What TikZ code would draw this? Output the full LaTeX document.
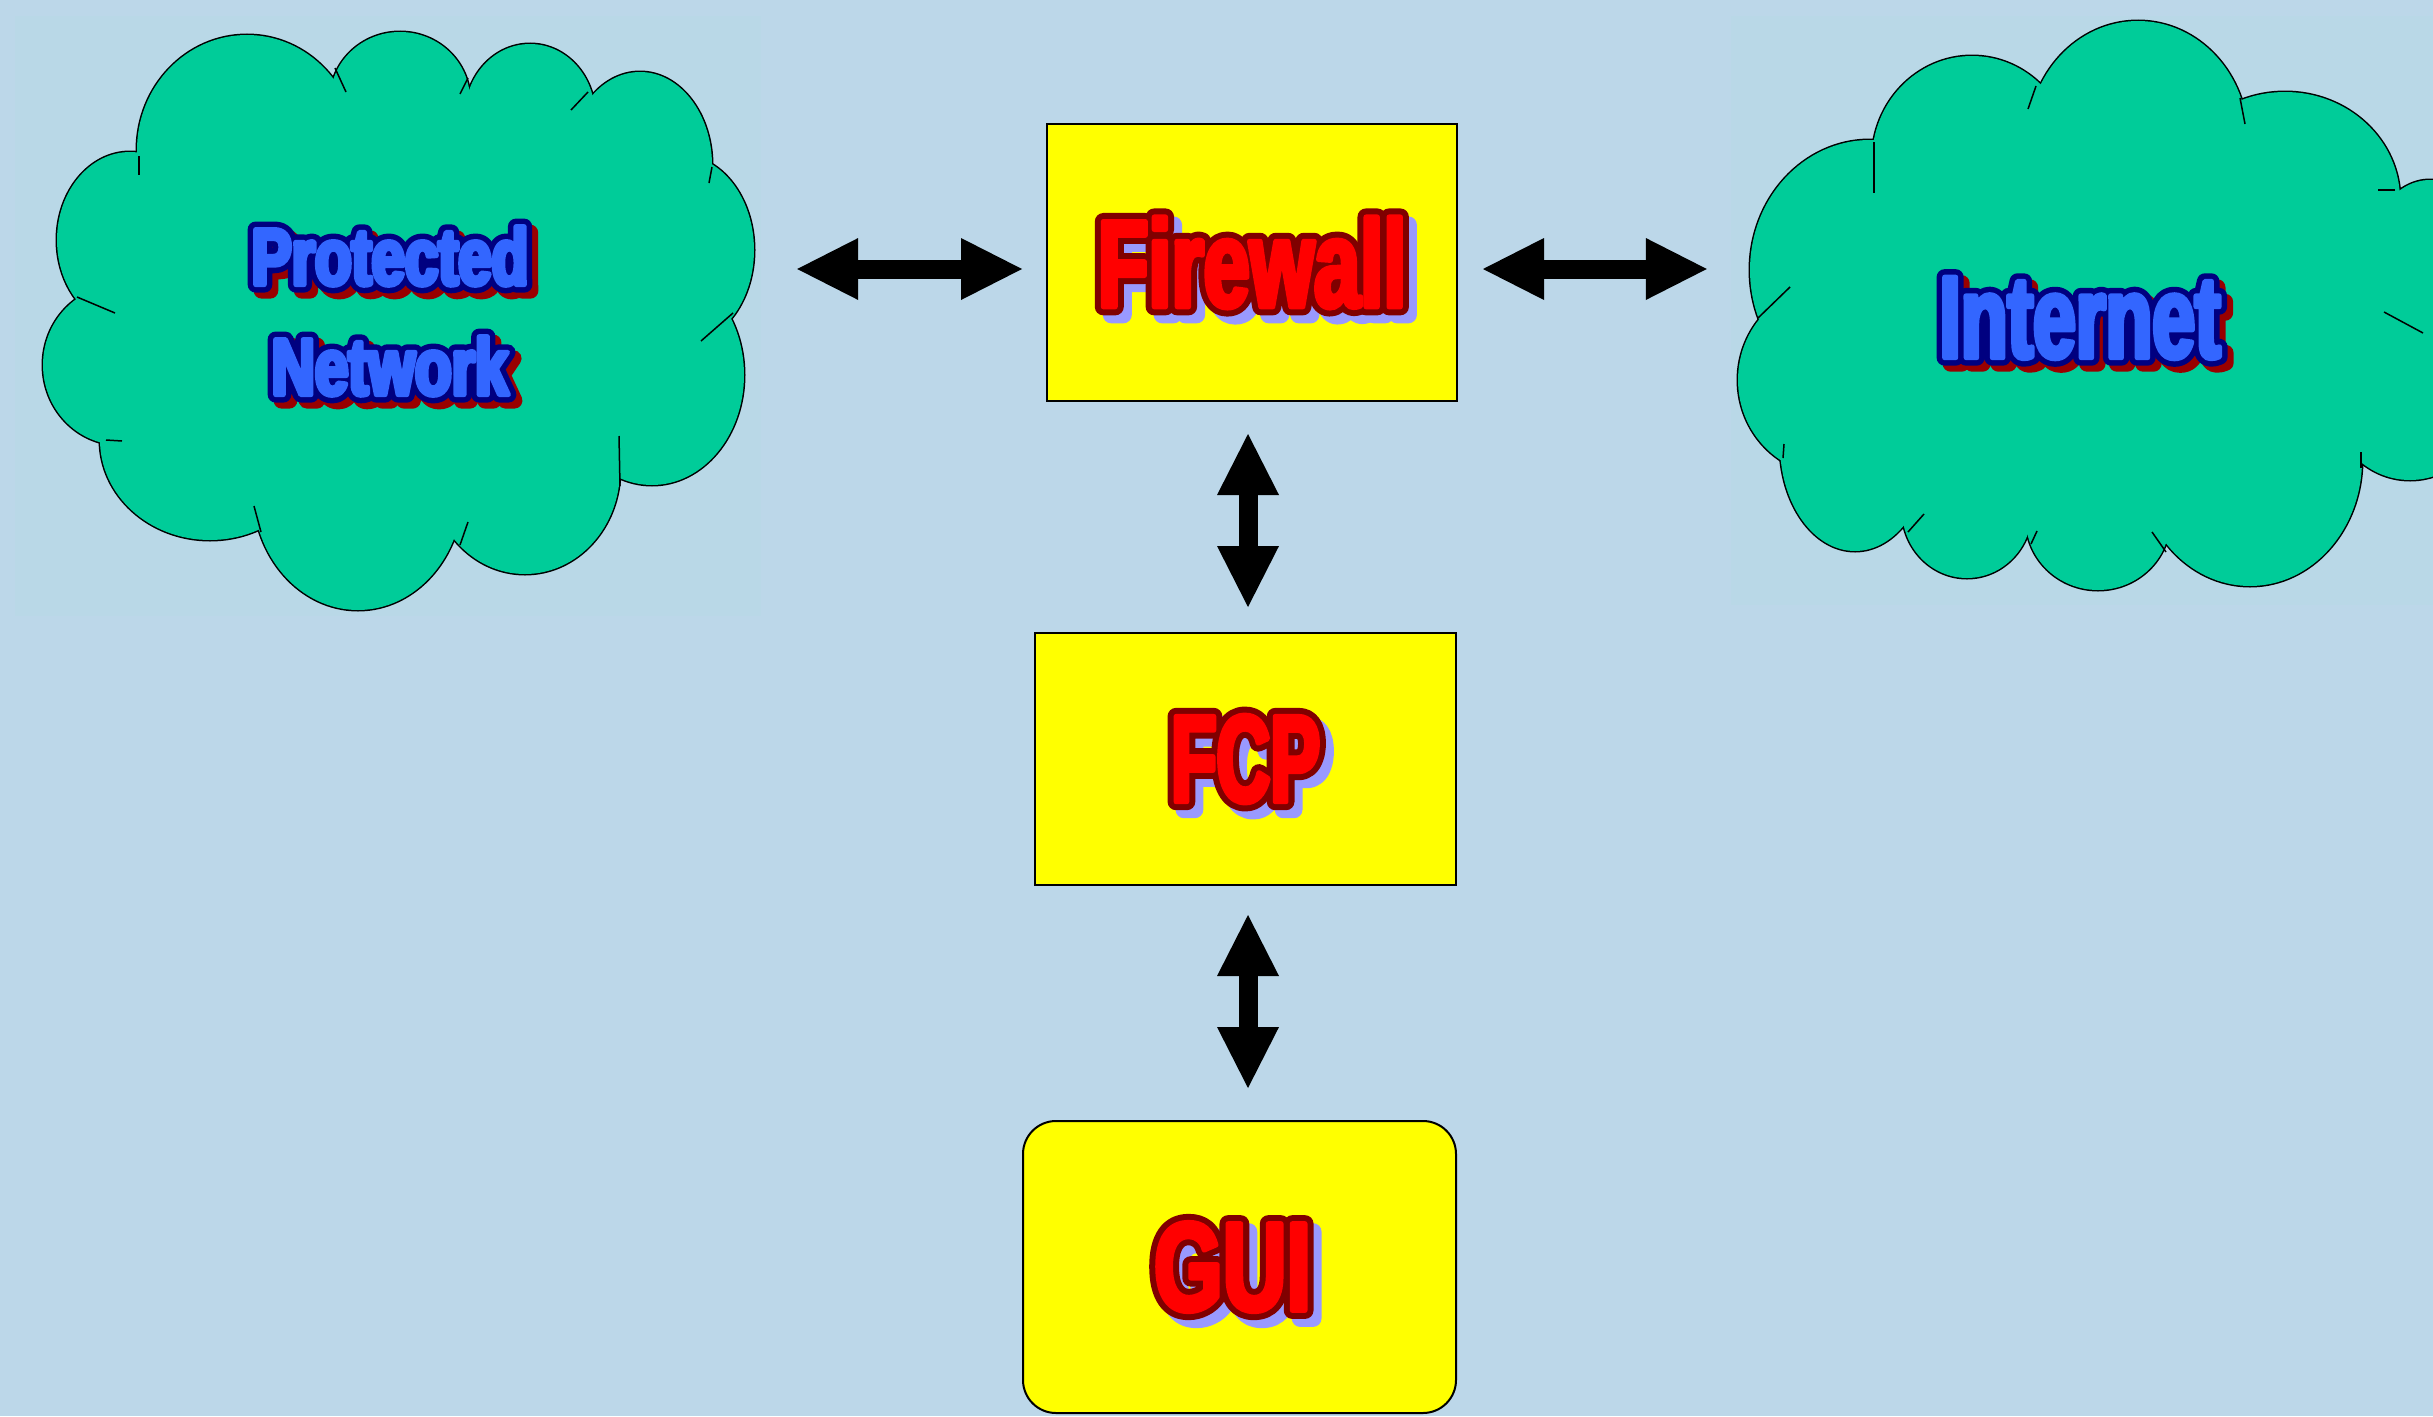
\documentclass[tikz,border=0pt]{standalone}
\usepackage{fontspec}
\usetikzlibrary{arrows.meta}
\newfontfamily\fwfont{Liberation Sans Bold}[FakeStretch=0.668]
\newfontfamily\fcpfont{Liberation Sans Bold}[FakeStretch=0.60]
\newfontfamily\guifont{Liberation Sans Bold}[FakeStretch=0.70]
\newfontfamily\pnfont{Liberation Sans Bold}[FakeStretch=0.75]
\newfontfamily\inetfont{Liberation Sans Bold}[FakeStretch=0.655]
\definecolor{bg}{RGB}{188,215,233}
\definecolor{area}{RGB}{185,216,231}
\definecolor{cloudfill}{RGB}{0,204,153}
\definecolor{boxfill}{RGB}{255,255,0}
\definecolor{redfill}{RGB}{255,0,0}
\definecolor{redline}{RGB}{128,0,0}
\definecolor{lavender}{RGB}{153,153,255}
\definecolor{bluefill}{RGB}{51,102,255}
\definecolor{blueline}{RGB}{0,0,128}
\definecolor{darkred}{RGB}{153,0,0}
% text filled and stroked in one colour: #1 colour, #2 stroke width (bp), #3 text
\newcommand\trl[3]{{\color{#1}\special{pdf:literal direct 2 Tr #2 w 1 j}#3\special{pdf:literal direct 0 Tr}}}
% #1 shadow, #2 outline, #3 fill, #4 outer width, #5 inner width, #6 shadow offset, #7 text
\newcommand\layered[7]{\leavevmode\rlap{\smash{\hspace*{#6}\raisebox{-#6}{\trl{#1}{#4}{#7}}}}\rlap{\trl{#2}{#4}{#7}}\trl{#3}{#5}{#7}}
\newcommand\redtxt[1]{\layered{lavender}{redline}{redfill}{17}{5}{8pt}{#1}}
\newcommand\bluetxt[1]{\layered{darkred}{blueline}{bluefill}{16}{5}{6pt}{#1}}
\begin{document}
\begin{tikzpicture}[x=1pt,y=-1pt,
  yellowbox/.style={draw=black, line width=2pt, fill=boxfill, inner sep=0pt},
  cloudarea/.style={inner sep=0pt, align=center},
  fat/.style={line width=19pt, draw=black,
    {Triangle[length=61pt,width=62pt,line width=0pt]}-{Triangle[length=61pt,width=62pt,line width=0pt]}},
  cloudline/.style={draw=black, line width=3pt},
  tail/.style={draw=black, line width=1.5pt},
]
\useasboundingbox (0,0) rectangle (2433,1416);
\fill[bg] (0,0) rectangle (2433,1416);
\fill[area] (15,16) rectangle (761,616);
\fill[area] (1731,16) rectangle (2433,605);

% left cloud: stroke pass, then fill pass
\foreach \cx/\cy/\rx/\ry in {247/150/110/115, 400/100/70/68, 530/115/65/71, 640/165/72/93,
  680/250/74/95, 652/375/92/110, 525/470/95/104, 358/490/105/120, 210/440/110/100,
  120/365/77/80, 130/240/73/88}
  \draw[cloudline] (\cx,\cy) ellipse [x radius=\rx pt, y radius=\ry pt];
\foreach \cx/\cy/\rx/\ry in {247/150/110/115, 400/100/70/68, 530/115/65/71, 640/165/72/93,
  680/250/74/95, 652/375/92/110, 525/470/95/104, 358/490/105/120, 210/440/110/100,
  120/365/77/80, 130/240/73/88}
  \fill[cloudfill] (\cx,\cy) ellipse [x radius=\rx pt, y radius=\ry pt];
\fill[cloudfill] (247,150) -- (400,100) -- (530,115) -- (640,165) -- (680,250) -- (652,375)
  -- (525,470) -- (358,490) -- (210,440) -- (120,365) -- (130,240) -- cycle;
\foreach \ax/\ay/\bx/\by in {139/156/139/175, 335/68/346/92, 468/78/460/94, 588/92/571/110,
  712/167/709/183, 733/313/701/341, 620/486/619/436, 460/545/468/522, 261/532/254/506,
  106/440/122/441, 77/297/115/313}
  \draw[tail] (\ax,\ay) -- (\bx,\by);

% right cloud
\foreach \cx/\cy/\rx/\ry in {1870/270/120/130, 1972/160/100/104, 2138/140/110/119,
  2285/200/115/108, 2430/270/65/90, 2410/395/80/85, 2250/460/112/126, 2098/520/72/70,
  1967/510/65/68, 1855/445/75/106, 1830/380/92/95}
  \draw[cloudline] (\cx,\cy) ellipse [x radius=\rx pt, y radius=\ry pt];
\foreach \cx/\cy/\rx/\ry in {1870/270/120/130, 1972/160/100/104, 2138/140/110/119,
  2285/200/115/108, 2430/270/65/90, 2410/395/80/85, 2250/460/112/126, 2098/520/72/70,
  1967/510/65/68, 1855/445/75/106, 1830/380/92/95}
  \fill[cloudfill] (\cx,\cy) ellipse [x radius=\rx pt, y radius=\ry pt];
\fill[cloudfill] (1870,270) -- (1972,160) -- (2138,140) -- (2285,200) -- (2430,270)
  -- (2410,395) -- (2250,460) -- (2098,520) -- (1967,510) -- (1855,445) -- (1830,380) -- cycle;
\foreach \ax/\ay/\bx/\by in {1874/142/1874/193, 2036/86/2028/109, 2240/98/2245/124,
  2395/190/2378/190, 2423/333/2384/312, 2361/468/2361/452, 2166/552/2152/532,
  2031/544/2037/531, 1908/532/1924/514, 1783/458/1784/444, 1758/318/1790/287}
  \draw[tail] (\ax,\ay) -- (\bx,\by);

% cloud labels (nodes sized to the clouds)
\node[cloudarea, minimum width=728pt, minimum height=560pt,
  font=\pnfont\fontsize{80}{110}\selectfont] (pn) at (390,311)
  {\bluetxt{Protected}\\\bluetxt{Network}};
\node[cloudarea, minimum width=684pt, minimum height=560pt,
  font=\inetfont\fontsize{117}{125}\selectfont] (inet) at (2080,318)
  {\bluetxt{Internet}};

% boxes
\node[yellowbox, minimum width=410pt, minimum height=277pt,
  font=\fwfont\fontsize{124}{130}\selectfont] (fw) at (1252,262.5) {\redtxt{Firewall}};
\node[yellowbox, minimum width=421pt, minimum height=252pt,
  font=\fcpfont\fontsize{124}{130}\selectfont] (fcp) at (1245.5,759) {\redtxt{FCP}};
\node[yellowbox, rounded corners=33pt, minimum width=433pt, minimum height=292pt,
  font=\guifont\fontsize{126}{130}\selectfont] (gui) at (1239.5,1267) {\redtxt{GUI}\hspace*{14pt}};

% connectors
\draw[fat, shorten <=43pt, shorten >=24pt] ([yshift=42pt]pn.east) -- ([yshift=42pt]pn.east -| fw.west);
\draw[fat, shorten <=25pt, shorten >=31pt] ([yshift=-6.5pt]fw.east) -- ([yshift=-6.5pt]fw.east -| inet.west);
\draw[fat, shorten <=32pt, shorten >=25pt] ([xshift=-4pt]fw.south) -- ([xshift=-4pt]fw.south |- fcp.north);
\draw[fat, shorten <=29pt, shorten >=32pt] ([xshift=2.5pt]fcp.south) -- ([xshift=2.5pt]fcp.south |- gui.north);
\end{tikzpicture}
\end{document}
